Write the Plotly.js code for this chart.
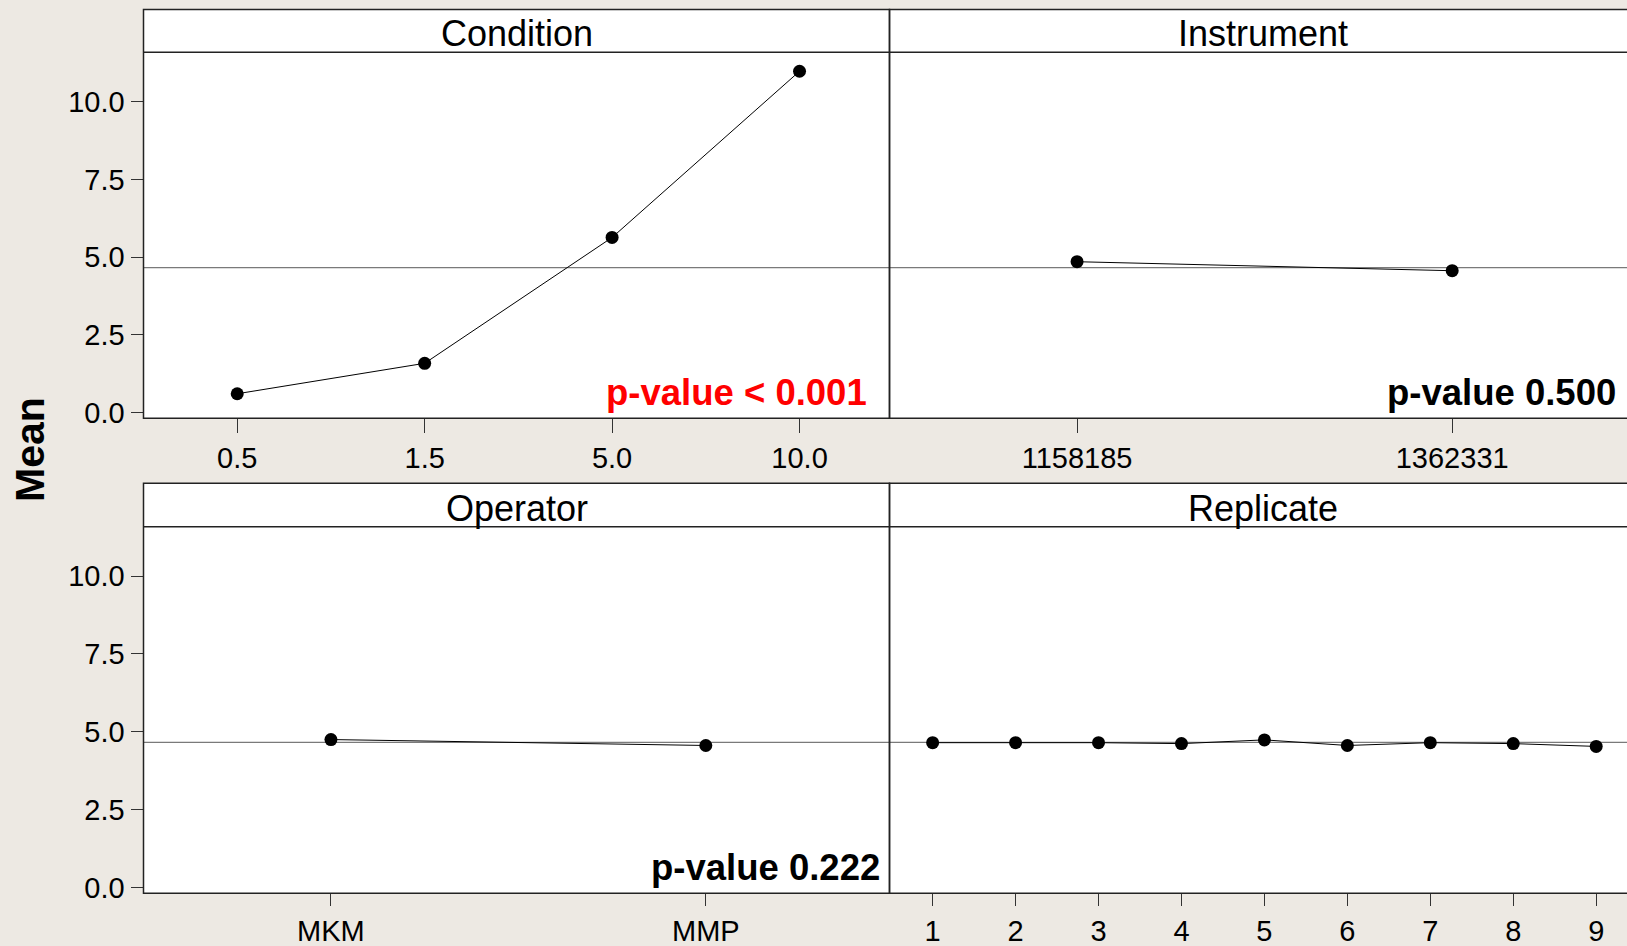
<!DOCTYPE html>
<html>
<head>
<meta charset="utf-8">
<script src="https://cdn.plot.ly/plotly-3.0.1.min.js"></script>
<style>
  html, body { margin: 0; padding: 0; overflow: hidden; background: #EDE9E3; }
  #chart { width: 1636px; height: 946px; }
</style>
</head>
<body>
<div id="chart"></div>
<script>
// ---- data ----
const conditionLevels = ['0.5', '1.5', '5.0', '10.0'];
const conditionMeans  = [0.60, 1.58, 5.63, 10.98];

const instrumentLevels = ['1158185', '1362331'];
const instrumentMeans  = [4.85, 4.56];

const operatorLevels = ['MKM', 'MMP'];
const operatorMeans  = [4.75, 4.56];

const replicateLevels = ['1', '2', '3', '4', '5', '6', '7', '8', '9'];
const replicateMeans  = [4.65, 4.65, 4.65, 4.62, 4.74, 4.56, 4.65, 4.62, 4.53];

const grandMean = 4.66;

const panelTitles = ['Condition', 'Instrument', 'Operator', 'Replicate'];
const pValueTexts = ['p-value < 0.001', 'p-value 0.500', 'p-value 0.222', null];
const pValueColors = ['#FF0000', '#000000', '#000000', null];

const yTickVals = [0, 2.5, 5, 7.5, 10];
const yTickText = ['0.0', '2.5', '5.0', '7.5', '10.0'];
const yTitle = 'Mean';

// ---- layout geometry (pixels) ----
const W = 1636, H = 946;
const FONT = 'Liberation Sans, Arial, sans-serif';
const cols = [[143.5, 889.5], [889.5, 1636]];
const rows = [{strip: 9.5, top: 52.3, bottom: 418.3}, {strip: 483.3, top: 526.7, bottom: 893.3}];
const px = x => x / W;
const py = y => 1 - y / H;
const yRange = [-0.19, 11.59];
const xRanges = [[-0.50, 3.48], [-0.50, 1.49], [-0.50, 1.49], [-0.52, 8.48]];
const pShift = [-20, -18, -7, 0];
const xTickLen = [14, 14, 12, 12];

const panels = [
  {levels: conditionLevels, means: conditionMeans, col: 0, row: 0},
  {levels: instrumentLevels, means: instrumentMeans, col: 1, row: 0},
  {levels: operatorLevels, means: operatorMeans, col: 0, row: 1},
  {levels: replicateLevels, means: replicateMeans, col: 1, row: 1}
];

const traces = [];
const layout = {
  width: W, height: H,
  margin: {l: 0, r: 0, t: 0, b: 0},
  paper_bgcolor: '#EDE9E3',
  plot_bgcolor: '#FFFFFF',
  showlegend: false,
  font: {family: FONT, color: '#000'},
  shapes: [],
  annotations: []
};

panels.forEach((p, i) => {
  const n = i + 1;
  const xa = 'xaxis' + (n === 1 ? '' : n);
  const ya = 'yaxis' + (n === 1 ? '' : n);
  const xr = 'x' + (n === 1 ? '' : n);
  const yr = 'y' + (n === 1 ? '' : n);
  const c = cols[p.col], r = rows[p.row];

  traces.push({
    type: 'scatter', mode: 'lines+markers',
    x: p.levels, y: p.means, xaxis: xr, yaxis: yr,
    line: {color: '#000', width: 1},
    marker: {color: '#000', size: 13},
    hoverinfo: 'x+y', cliponaxis: false
  });

  layout[xa] = {
    domain: [px(c[0]), px(c[1])],
    anchor: yr,
    type: 'category',
    categoryorder: 'array', categoryarray: p.levels,
    range: xRanges[i],
    showgrid: false, zeroline: false, showline: false,
    ticks: 'outside', ticklen: xTickLen[i], tickwidth: 1, tickcolor: '#333',
    tickfont: {family: FONT, size: 29, color: '#000'},
    fixedrange: true
  };
  layout[ya] = {
    domain: [py(r.bottom), py(r.top)],
    anchor: xr,
    range: yRange,
    showgrid: false, zeroline: false, showline: false,
    tickvals: yTickVals, ticktext: yTickText,
    ticks: p.col === 0 ? 'outside' : '',
    showticklabels: p.col === 0,
    ticklen: 12, tickwidth: 1, tickcolor: '#333',
    tickfont: {family: FONT, size: 29, color: '#000'},
    fixedrange: true
  };

  // strip background + frame
  layout.shapes.push({
    type: 'rect', xref: 'paper', yref: 'paper', layer: 'below',
    x0: px(c[0]), x1: px(c[1]), y0: py(r.top), y1: py(r.strip),
    fillcolor: '#FFFFFF', line: {width: 0}
  });
  layout.shapes.push({
    type: 'rect', xref: 'paper', yref: 'paper', layer: 'above',
    x0: px(c[0]), x1: px(c[1]), y0: py(r.bottom), y1: py(r.strip),
    fillcolor: 'rgba(0,0,0,0)', line: {color: '#222', width: 1.5}
  });
  layout.shapes.push({
    type: 'line', xref: 'paper', yref: 'paper', layer: 'above',
    x0: px(c[0]), x1: px(c[1]), y0: py(r.top), y1: py(r.top),
    line: {color: '#222', width: 1.5}
  });
  // grand mean reference line
  layout.shapes.push({
    type: 'line', xref: xr + ' domain', yref: yr, layer: 'below',
    x0: 0, x1: 1, y0: grandMean, y1: grandMean,
    line: {color: '#7a7a7a', width: 1.3}
  });

  layout.annotations.push({
    xref: 'paper', yref: 'paper',
    x: px((c[0] + c[1]) / 2), y: py((r.strip + r.top) / 2), yshift: -3,
    text: panelTitles[i], showarrow: false,
    xanchor: 'center', yanchor: 'middle',
    font: {family: FONT, size: 36, color: '#000'}
  });

  if (pValueTexts[i]) {
    layout.annotations.push({
      xref: xr + ' domain', yref: yr + ' domain',
      x: 1, y: 0, xshift: pShift[i], yshift: 3,
      xanchor: 'right', yanchor: 'bottom',
      text: '<b>' + pValueTexts[i] + '</b>', showarrow: false,
      font: {family: FONT, size: 36.5, color: pValueColors[i]}
    });
  }
});

layout.annotations.push({
  xref: 'paper', yref: 'paper', x: px(30), y: py(450),
  text: '<b>' + yTitle + '</b>', textangle: -90, showarrow: false,
  xanchor: 'center', yanchor: 'middle',
  font: {family: FONT, size: 41, color: '#000'}
});

Plotly.newPlot('chart', traces, layout, {displayModeBar: false, staticPlot: true});
</script>
</body>
</html>
